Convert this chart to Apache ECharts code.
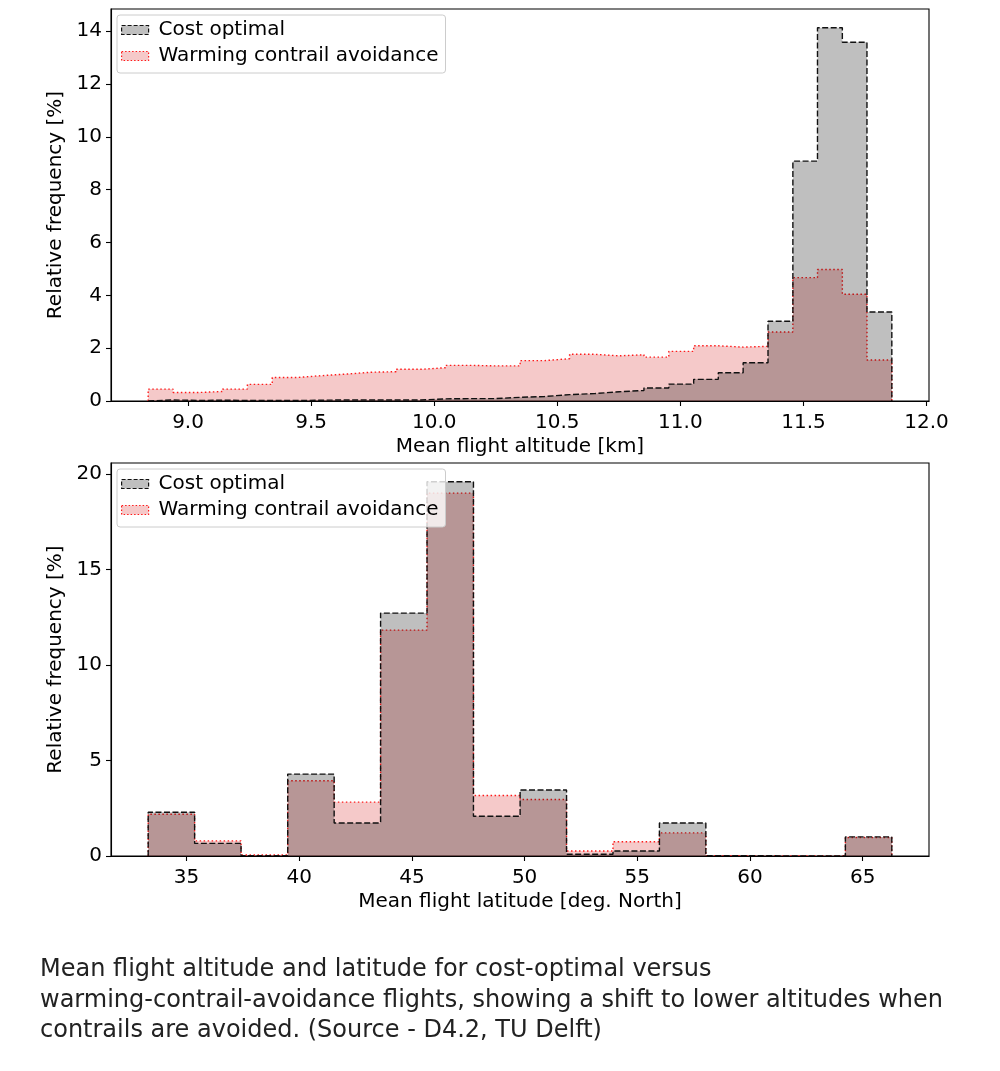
<!DOCTYPE html>
<html>
<head>
<meta charset="utf-8">
<script src="https://cdn.jsdelivr.net/npm/echarts@6/dist/echarts.min.js"></script>
<style>
  body { margin: 0; background: #fff; }
  #main { position: absolute; left: 0; top: 0; width: 1000px; height: 1071px; }
  #caption {
    position: absolute; left: 40px; top: 953px;
    font-family: "DejaVu Sans", sans-serif; font-size: 24px; line-height: 30.5px;
    color: #222; white-space: nowrap;
  }
</style>
</head>
<body>
<div id="main"></div>
<div id="caption">Mean flight altitude and latitude for cost-optimal versus<br>warming-contrail-avoidance flights, showing a shift to lower altitudes when<br>contrails are avoided. (Source - D4.2, TU Delft)</div>
<script>
// bin edges and relative frequencies [%]
var altEdges = [8.838, 8.939, 9.039, 9.140, 9.241, 9.342, 9.442, 9.543, 9.644, 9.744, 9.845,
  9.946, 10.047, 10.147, 10.248, 10.349, 10.449, 10.550, 10.651, 10.752, 10.852,
  10.953, 11.054, 11.154, 11.255, 11.356, 11.457, 11.557, 11.658, 11.758, 11.859];
var altCost = [0.04, 0.02, 0.03, 0.02, 0.02, 0.02, 0.03, 0.04, 0.04, 0.04,
  0.04, 0.08, 0.09, 0.09, 0.14, 0.17, 0.24, 0.28, 0.35, 0.40,
  0.49, 0.64, 0.82, 1.07, 1.45, 3.02, 9.08, 14.13, 13.58, 3.37];
var altWarm = [0.45, 0.32, 0.36, 0.45, 0.63, 0.89, 0.96, 1.02, 1.09, 1.11,
  1.20, 1.26, 1.35, 1.33, 1.33, 1.53, 1.60, 1.77, 1.71, 1.75,
  1.66, 1.88, 2.09, 2.04, 2.07, 2.61, 4.67, 4.98, 4.04, 1.55];

var latEdges = [33.30, 35.36, 37.42, 39.49, 41.55, 43.61, 45.67, 47.73, 49.80,
  51.86, 53.92, 55.98, 58.04, 60.11, 62.17, 64.23, 66.29];
var latCost = [2.29, 0.66, 0.02, 4.29, 1.73, 12.72, 19.6, 2.08, 3.46, 0.09, 0.26, 1.73, 0.02, 0, 0, 1.0];
var latWarm = [2.19, 0.79, 0.05, 3.94, 2.82, 11.83, 19.0, 3.17, 2.96, 0.26, 0.75, 1.21, 0.02, 0, 0, 0.97];

var altTicks = [9.0, 9.5, 10.0, 10.5, 11.0, 11.5, 12.0];
var latTicks = [35, 40, 45, 50, 55, 60, 65];
var altFreqTicks = [0, 2, 4, 6, 8, 10, 12, 14];
var latFreqTicks = [0, 5, 10, 15, 20];

var seriesNames = ['Cost optimal', 'Warming contrail avoidance'];

var FONT = '"DejaVu Sans", sans-serif';
var DASH = [6, 2.5];
var DOT = [1.5, 2.5];

// outline of a step histogram: edges + values -> points for a step:'end' line
function histPoints(edges, values) {
  var pts = [[edges[0], 0]];
  for (var i = 0; i < values.length; i++) pts.push([edges[i], values[i]]);
  pts.push([edges[edges.length - 1], values[values.length - 1]]);
  pts.push([edges[edges.length - 1], 0]);
  return pts;
}

function histSeries(name, idx, edges, values, isCost) {
  return {
    name: name,
    type: 'line',
    xAxisIndex: idx,
    yAxisIndex: idx,
    step: 'end',
    symbol: 'none',
    data: histPoints(edges, values),
    lineStyle: isCost ? { color: '#111', width: 1.4, type: DASH }
                      : { color: '#ff1a1a', width: 1.4, type: DOT },
    areaStyle: isCost ? { color: '#000', opacity: 0.25 }
                      : { color: 'rgb(214,39,40)', opacity: 0.25 },
    itemStyle: { color: isCost ? '#888' : '#f5c6c9' },
    z: isCost ? 3 : 2
  };
}

function makeXAxis(idx, min, max, ticks, name, fmt) {
  return {
    gridIndex: idx, type: 'value', min: min, max: max, z: 5,
    name: name, nameLocation: 'middle', nameGap: 36,
    nameTextStyle: { fontFamily: FONT, fontSize: 20, color: '#000' },
    axisLine: { show: true, onZero: false, lineStyle: { color: '#000', width: 1.1 } },
    axisTick: { show: true, length: 5, customValues: ticks, lineStyle: { color: '#000', width: 1.1 } },
    axisLabel: { customValues: ticks, margin: 12, fontFamily: FONT, fontSize: 20, color: '#000', formatter: fmt },
    splitLine: { show: false }
  };
}

function makeYAxis(idx, max, ticks) {
  return {
    gridIndex: idx, type: 'value', min: 0, max: max, z: 5,
    name: 'Relative frequency [%]', nameLocation: 'middle', nameGap: 41, nameRotate: 90,
    nameTextStyle: { fontFamily: FONT, fontSize: 20, color: '#000' },
    axisLine: { show: true, lineStyle: { color: '#000', width: 1.1 } },
    axisTick: { show: true, length: 5, customValues: ticks, lineStyle: { color: '#000', width: 1.1 } },
    axisLabel: { customValues: ticks, margin: 9, fontFamily: FONT, fontSize: 20, color: '#000' },
    splitLine: { show: false }
  };
}

function makeLegend(top) {
  return {
    orient: 'vertical', left: 117, top: top,
    itemWidth: 27, itemHeight: 9, itemGap: 6,
    padding: [5, 7, 7, 4],
    backgroundColor: 'rgba(255,255,255,0.8)',
    borderColor: '#cccccc', borderWidth: 1, borderRadius: 3,
    selectedMode: false,
    textStyle: { fontFamily: FONT, fontSize: 20, color: '#000', padding: [0, 0, 0, 5] },
    data: [
      { name: seriesNames[0], icon: 'rect',
        itemStyle: { color: 'rgb(191,191,191)', borderColor: '#111', borderWidth: 1.2, borderType: [4, 2] } },
      { name: seriesNames[1], icon: 'rect',
        itemStyle: { color: 'rgb(245,201,201)', borderColor: '#ff1a1a', borderWidth: 1.2, borderType: [1.5, 2] } }
    ]
  };
}

var chart = echarts.init(document.getElementById('main'), null, { renderer: 'canvas' });

var option = {
  animation: false,
  backgroundColor: '#fff',
  grid: [
    { left: 111, top: 9, width: 818, height: 392, show: true, borderColor: '#000', borderWidth: 1.1, backgroundColor: 'transparent' },
    { left: 111, top: 463, width: 818, height: 393, show: true, borderColor: '#000', borderWidth: 1.1, backgroundColor: 'transparent' }
  ],
  xAxis: [
    makeXAxis(0, 8.687, 12.010, altTicks, 'Mean flight altitude [km]', function (v) { return v.toFixed(1); }),
    makeXAxis(1, 31.65, 67.94, latTicks, 'Mean flight latitude [deg. North]', function (v) { return String(Math.round(v)); })
  ],
  yAxis: [
    makeYAxis(0, 14.84, altFreqTicks),
    makeYAxis(1, 20.58, latFreqTicks)
  ],
  legend: [makeLegend(15), makeLegend(469)],
  series: [
    histSeries(seriesNames[1], 0, altEdges, altWarm, false),
    histSeries(seriesNames[0], 0, altEdges, altCost, true),
    histSeries(seriesNames[1], 1, latEdges, latWarm, false),
    histSeries(seriesNames[0], 1, latEdges, latCost, true)
  ]
};

chart.setOption(option);
</script>
</body>
</html>
